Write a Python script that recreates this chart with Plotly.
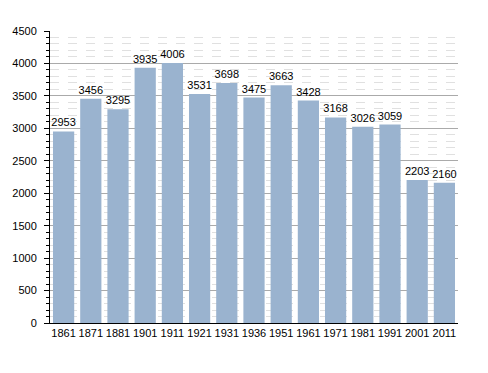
import plotly.graph_objects as go

years = ["1861", "1871", "1881", "1901", "1911", "1921", "1931", "1936", "1951", "1961", "1971", "1981", "1991", "2001", "2011"]
population = [2953, 3456, 3295, 3935, 4006, 3531, 3698, 3475, 3663, 3428, 3168, 3026, 3059, 2203, 2160]

fig = go.Figure(go.Bar(
    x=years, y=population,
    marker=dict(color="#9ab3cf", line=dict(width=0)),
    text=[str(v) for v in population], textposition="outside",
    textfont=dict(size=11, color="black"),
    constraintext="none",
    cliponaxis=False,
))
fig.update_layout(
    width=480, height=365,
    margin=dict(l=42, r=30, t=23, b=50, autoexpand=False),
    plot_bgcolor="white", paper_bgcolor="white",
    font=dict(family="Liberation Sans, Arial, sans-serif", size=11, color="black"),
    bargap=0.22, showlegend=False,
)
fig.update_xaxes(type="category", showline=True, linecolor="black", linewidth=1,
                 ticks="", tickfont=dict(size=11), automargin=False)
fig.update_yaxes(range=[0, 4500], dtick=500, showline=True, linecolor="black", linewidth=1,
                 ticks="outside", ticklen=5, tickcolor="black", automargin=False,
                 ticklabelstandoff=5,
                 showgrid=True, gridcolor="#aaaaaa", gridwidth=1, zeroline=False,
                 minor=dict(dtick=100, showgrid=True, gridcolor="#e0e0e0", griddash="dash",
                            ticks="outside", ticklen=3, tickcolor="black"),
                 tickfont=dict(size=11))
fig.write_html("out.html")
